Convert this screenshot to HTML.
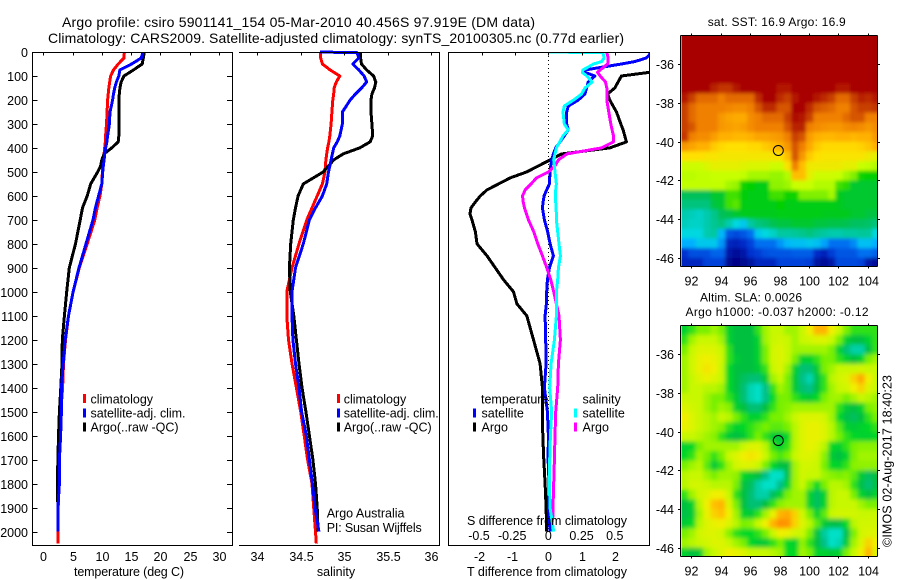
<!DOCTYPE html>
<html lang="en">
<head>
<meta charset="utf-8">
<title>Argo profile csiro 5901141_154</title>
<style>
html,body{margin:0;padding:0;background:#fff;}
svg{display:block;font-family:"Liberation Sans",sans-serif;font-size:12.5px;fill:#000;}
svg text{fill:#000;}
</style>
</head>
<body>
<svg id="chart" xmlns="http://www.w3.org/2000/svg" width="900" height="580" viewBox="0 0 900 580">
  <defs>
    <clipPath id="clip-diff"><rect x="449" y="52" width="200" height="493"/></clipPath>
    <clipPath id="clip-sst"><rect x="681.5" y="36" width="195.5" height="230.5"/></clipPath>
    <clipPath id="clip-sla"><rect x="681.5" y="325.5" width="195.5" height="231"/></clipPath>
    <filter id="soft-sst" x="-5%" y="-5%" width="110%" height="110%"><feGaussianBlur stdDeviation="1.8"/></filter>
    <filter id="soft-sla" x="-5%" y="-5%" width="110%" height="110%"><feGaussianBlur stdDeviation="2.2"/></filter>
  </defs>

  <text x="62" y="27" font-size="14" textLength="473" lengthAdjust="spacing">Argo profile: csiro 5901141_154 05-Mar-2010 40.456S 97.919E (DM data)</text>
  <text x="48" y="43" font-size="14" textLength="576" lengthAdjust="spacing">Climatology: CARS2009. Satellite-adjusted climatology: synTS_20100305.nc (0.77d earlier)</text>

  <g id="panel-temp"></g>
  <g id="panel-sal"></g>
  <g id="panel-diff"></g>
  <g id="map-sst"></g>
  <g id="map-sla"></g>

  <text x="129" y="576" text-anchor="middle" textLength="110" lengthAdjust="spacing">temperature (deg C)</text>
  <text x="336" y="576" text-anchor="middle">salinity</text>
  <text x="547" y="576" text-anchor="middle" textLength="160" lengthAdjust="spacing">T difference from climatology</text>
  <text x="547" y="525" text-anchor="middle" textLength="160" lengthAdjust="spacing">S difference from climatology</text>

  <g>
    <rect x="83" y="394" width="3" height="9" fill="#ff0000"/>
    <text x="90.5" y="403.5">climatology</text>
    <rect x="83" y="408.5" width="3" height="9" fill="#0000ff"/>
    <text x="90.5" y="417.5" textLength="95" lengthAdjust="spacing">satellite-adj. clim.</text>
    <rect x="83" y="422.5" width="3" height="9" fill="#000"/>
    <text x="90.5" y="431.5" textLength="88" lengthAdjust="spacing">Argo(..raw -QC)</text>
  </g>
  <g>
    <rect x="337" y="394" width="3" height="9" fill="#ff0000"/>
    <text x="343.7" y="403.5">climatology</text>
    <rect x="337" y="408.5" width="3" height="9" fill="#0000ff"/>
    <text x="343.7" y="417.5" textLength="95" lengthAdjust="spacing">satellite-adj. clim.</text>
    <rect x="337" y="422.5" width="3" height="9" fill="#000"/>
    <text x="343.7" y="431.5" textLength="88" lengthAdjust="spacing">Argo(..raw -QC)</text>
  </g>
  <g>
    <text x="481" y="403.5">temperature</text>
    <rect x="473" y="408.5" width="3" height="9" fill="#0000ff"/>
    <text x="481.5" y="417.5">satellite</text>
    <rect x="473" y="422.5" width="3" height="9" fill="#000"/>
    <text x="481.5" y="431.5">Argo</text>
    <text x="582.5" y="403.5">salinity</text>
    <rect x="574" y="408.5" width="3" height="9" fill="#00ffff"/>
    <text x="582.5" y="417.5">satellite</text>
    <rect x="574" y="422.5" width="3" height="9" fill="#ff00ff"/>
    <text x="582.5" y="431.5">Argo</text>
  </g>

  <text x="326.7" y="517.5">Argo Australia</text>
  <text x="326.7" y="532" textLength="95" lengthAdjust="spacing">PI: Susan Wijffels</text>

  <text x="776.7" y="26" text-anchor="middle" font-size="12" textLength="138" lengthAdjust="spacing">sat. SST: 16.9 Argo: 16.9</text>
  <text x="751" y="301.5" text-anchor="middle" font-size="12" textLength="102" lengthAdjust="spacing">Altim. SLA: 0.0026</text>
  <text x="777" y="316" text-anchor="middle" font-size="12" textLength="183" lengthAdjust="spacing">Argo h1000: -0.037 h2000: -0.12</text>
  <text transform="translate(891.5,547) rotate(-90)" textLength="172" lengthAdjust="spacing">©IMOS 02-Aug-2017 18:40:23</text>
</svg>

<script>
const profileDepths = [0,3,25,50,75,100,125,150,175,200,250,300,350,375,400,425,450,475,500,550,600,650,700,800,900,1000,1100,1200,1300,1400,1500,1600,1700,1800,1900,2000,2050];
const tempClim = [13.85,13.85,13.8,12.8,12,11.5,11.35,11.2,11.1,11,10.9,10.8,10.65,10.6,10.5,10.4,10.25,10.2,10.1,10,9.7,9.2,8.8,7.5,6.15,5.1,4.3,3.8,3.45,3.3,3,2.85,2.75,2.65,2.55,2.5,2.5];
const tempSat = [17,17,16.75,15.1,13.1,12.9,12.5,12.2,12,11.85,11.4,11.3,11,10.85,10.65,10.5,10.4,10.25,10.15,10,9.45,8.9,8.5,7.3,6.1,5.1,4.3,3.75,3.4,3.1,3.1,2.95,2.75,2.75,2.5,2.5,null];
const tempArgo = [17.25,17.25,17.1,16.9,15.4,13.8,13.3,13.1,13,12.9,12.9,12.9,12.9,12.8,11.7,10.4,10,9.8,9.3,8.1,7.5,6.7,6.3,5.5,4.45,4,3.6,3.25,3.2,3,2.75,2.6,2.5,2.4,2.5,2.5,null];
const salClim = [34.72,34.73,34.73,34.75,34.84,34.95,34.91,34.885,34.88,34.87,34.86,34.85,34.835,34.825,34.81,34.8,34.79,34.785,34.78,34.75,34.69,34.63,34.57,34.48,34.4,34.34,34.34,34.36,34.4,34.45,34.5,34.54,34.58,34.63,34.65,34.67,34.68];
const salSat = [34.72,35.15,35.17,35.1,35.17,35.23,35.26,35.2,35.13,35.07,34.98,34.98,34.95,34.92,34.88,34.865,34.85,34.835,34.82,34.8,34.75,34.67,34.6,34.53,34.44,34.4,34.4,34.41,34.44,34.48,34.51,34.565,34.6,34.635,34.665,34.71,null];
const salArgo = [35.19,35.19,35.19,35.2,35.26,35.34,35.365,35.35,35.32,35.31,35.31,35.32,35.33,35.3,35.18,34.99,34.88,34.82,34.76,34.53,34.47,34.44,34.415,34.385,34.37,34.38,34.42,34.45,34.48,34.515,34.56,34.6,34.64,34.67,34.69,34.7,null];

const diffDepths = [0,3,25,40,50,75,85,100,125,150,175,200,225,250,300,325,350,375,400,425,450,475,500,525,550,575,600,625,650,675,700,750,800,850,900,950,1000,1050,1100,1200,1300,1400,1500,1600,1700,1800,1900,2000];
const dTSat = [3.15,3.1,2.95,2.6,2.2,1.1,1.1,1.4,1.2,1.15,1.1,.9,.6,.55,.55,.6,.48,.35,.22,.15,.1,.07,.05,.04,.03,-.05,-.13,-.16,-.18,-.15,-.12,-.02,.05,.15,.03,-.03,-.05,-.06,-.1,-.08,-.07,-.12,-.03,0,-.01,.02,0,.05];
const dTArgo = [3.4,3.4,3.3,3.8,4.1,3.4,3.03,2.2,2.1,2,1.78,1.85,1.95,2.05,2.18,2.25,2.3,2.35,1.85,.4,.05,-.3,-.65,-1.15,-1.5,-1.85,-2.05,-2.2,-2.33,-2.36,-2.3,-2.2,-2.15,-1.85,-1.6,-1.35,-1.05,-.95,-.65,-.45,-.25,-.18,-.18,-.17,-.14,-.1,-.07,-.05];
const dSSat = [0,.41,.42,.4,.34,.26,.255,.29,.33,.275,.25,.19,.12,.11,.12,.15,.11,.085,.06,.05,.04,.045,.05,.055,.06,.055,.055,.055,.057,.06,.06,.07,.08,.09,.075,.07,.06,.06,.06,.045,.02,.01,.025,.015,.01,.008,.012,.04];
const dSArgo = [.44,.44,.45,.45,.445,.39,.37,.39,.43,.44,.44,.44,.447,.455,.47,.48,.49,.49,.4,.14,.075,.05,0,-.09,-.13,-.175,-.195,-.19,-.18,-.165,-.15,-.11,-.08,-.045,-.012,.018,.04,.06,.08,.09,.075,.07,.055,.05,.045,.04,.035,.03];

const depthTicks = [0,100,200,300,400,500,600,700,800,900,1000,1100,1200,1300,1400,1500,1600,1700,1800,1900,2000];
const tempTicks = [0,5,10,15,20,25,30];
const salTicks = [34,34.5,35,35.5,36];
const dTTicks = [-2,-1,0,1,2];
const dSTicks = [-0.5,-0.25,0,0.25,0.5];
const lonTicks = [92,94,96,98,100,102,104];
const latTicks = [-36,-38,-40,-42,-44,-46];
const argoLon = 97.919;
const argoLat = -40.456;

const gridLon0 = 91.3;
const gridLat0 = -34.5;
const gridStep = 0.5;

const sstGrid = [
[19.2,19.2,19.2,19.2,19.2,19.2,19.2,19.2,19.2,19.2,19.2,19.2,19.2,19.2,19.2,19.2,19.2,19.2,19.2,19.2,19.2,19.2,19.2,19.2,19.2,19.2,19.2],
[19.2,19.2,19.2,19.2,19.2,19.2,19.2,19.2,19.2,19.2,19.2,19.2,19.2,19.2,19.2,19.2,19.2,19.2,19.2,19.2,19.2,19.2,19.2,19.2,19.2,19.2,19.2],
[19.2,19.2,19.2,19.2,19.2,19.2,19.2,19.2,19.2,19.2,19.2,19.2,19.2,19.2,19.2,19.2,19.2,19.2,19.2,19.2,19.2,19.2,19.2,19.2,19.2,19.2,19.2],
[19.2,19.2,19.2,19.2,19.2,19.2,19.2,19.2,19.2,19.2,19.2,19.2,19.2,19.2,19.2,19.2,19.2,19.2,19.2,19.2,19.2,19.2,19.2,19.2,19.2,19.2,19.2],
[19.2,19.2,19.2,19.2,19.2,19.2,19.2,19.2,19.2,19.2,19.2,19.2,19.2,19.2,19.2,19.2,19.2,19.2,19.2,19.2,19.2,19.2,19.2,19.2,19.2,19.2,19.2],
[19.2,19.2,19.2,19.2,18.9,18.7,18.7,19,19.2,19.2,19.2,19.2,19.2,19,19,19.2,19.2,19.2,19.2,19.2,19.2,19,19,19.2,19.2,19.2,19.2],
[19,18.6,18.2,18.2,18.2,18,18.2,18.2,18.2,18.2,18.8,19.2,19.2,18.8,18.6,19,19.2,19.2,19,18.8,18.6,18.2,18.2,18.6,18.9,18.8,19],
[18.6,18.2,18,18,18,18,17.9,17.8,17.8,18,18.4,18.8,18.8,18.4,18.4,19.2,19.2,18.8,18.4,18.3,18.2,18,18,18.4,18.6,18.6,18.7],
[18.6,18.2,18,18,18,17.6,17.4,17.3,17.3,17.8,18,18.2,18.2,18.2,18.6,19.1,19,18.6,18,18,18,18,18.2,18.4,18.4,18,18],
[18.6,18.4,18,18,18,17.6,17.5,17.4,17.5,17.8,18,18,18,18,18.4,18.9,18.9,18,17.8,17.7,17.6,17.6,17.8,17.9,17.8,17.6,17.8],
[18.7,18,17.8,17.8,17.5,17.2,17.2,17.1,17.1,17.2,17.4,17.4,17.5,17.6,18,18.6,18.4,17.5,17.2,17.1,17.1,17.2,17.2,17.1,17.2,17.2,17.6],
[17.6,17.4,17.2,17.2,16.8,16.6,16.5,16.5,16.5,16.6,16.6,16.8,17,17.2,17.6,18.4,18,17.3,16.8,16.6,16.6,16.6,16.6,16.6,16.7,16.9,17.2],
[16.5,16.5,16.5,16.4,16.4,16.3,16.3,16.3,16.3,16.3,16.3,16.3,16.4,16.5,17,18.4,17.6,16.8,16.5,16.4,16.4,16.4,16.4,16.4,16.4,16.2,16],
[15.6,15.6,15.6,15.8,16,16,16,16,15.9,15.8,15.8,15.8,15.6,15.6,16.4,18,17,16.2,16.2,16.2,16.2,16.2,16,16,15.5,15.4,15.2],
[15.3,15.3,15.4,15.4,15.5,15.5,15.5,15.5,15.4,15,15,15,14.8,14.8,15.2,17,17,16,15.6,15.6,15.6,15.5,15,14.5,13.6,13.5,13.5],
[15.4,15.4,15.4,15.4,15.4,15.4,15,14.8,13.6,13.5,13.3,13.3,14.7,14.7,14.9,15.5,15.6,15.5,15.2,15.2,15.2,14,13.8,13,13,13,13],
[12.5,12.5,12.5,12.5,13,13,14,14,13.4,13.3,13.3,13.3,14,14,13.6,13.6,14.5,14.5,14.5,14.5,15,13.2,13,13,13,13,13],
[12,12,12,12,12.8,13,14,14.2,13.3,13.3,13.3,13.3,13.3,13.5,13.3,13.3,13.3,13.3,13.3,13.3,13.3,13.2,13,13,13,13,13],
[11.4,11.3,11.2,11.4,11.8,12.5,12.7,13,13.2,13.2,13.2,13.2,13.2,13.3,13.3,13.3,13.3,13.3,13.3,13.2,13.2,13.2,13.2,13,13,12.8,12.8],
[11.3,11.2,11.2,11.4,11.7,12,11.4,11,10.8,11.5,12,12.2,12.6,12.8,12.8,13,13,13,12.8,12.8,12.7,12.7,12.6,12.4,12.4,12.3,12],
[11,11,11,11.4,11.5,10.6,9.6,9.4,9.6,10,10.8,11,11.2,11.5,11.5,11.6,11.8,12,11.7,11.5,11.4,11.4,11.5,11.5,11.6,11.6,11],
[10.5,10.5,10.8,10.8,10.8,10.3,8.8,8.7,8.9,9.3,10,10,10,10.3,10.6,10.7,10.7,10.8,10.7,10.4,10,10,10,10.2,10.7,10.7,10.5],
[9,9.5,9.5,9.5,9.8,9.8,8.5,8.3,8.5,9,9.2,9.5,9.6,9.6,9.6,9.7,9.7,9.7,8.9,8.7,9.2,9.6,9.6,9.6,10,10,9.8],
[8.8,8.8,8.8,9.3,9.3,9.3,8.2,8.1,8.2,8.4,8.8,8.8,8.8,9.3,9.3,9.3,9.3,9.2,8.4,8.3,8.5,9.4,9.4,9.4,9.3,8.5,8.3]
];

const slaGrid = [
[-1,-0.5,0,0,0.5,0,-1,-1.5,-1.5,-1.5,-0.5,0.5,1,1,0.5,0.5,1,2,3,3,2,1,0,-0.5,-0.5,-0.5,-0.5],
[-0.5,0.5,1,1,1,0.5,-1,-1.5,-1.5,-1.5,-1,0.5,1,1.2,1,0.5,1,1.2,1.5,1.5,1,0,-1,-1.5,-1.5,-1,-0.5],
[0,1,1.5,1.5,1.5,1,-0.5,-1.5,-1.5,-1.5,-1,0,1.2,1.5,1,0.5,0.5,0.5,0.5,0.5,0,-1,-2,-2.5,-2.5,-1.5,-0.5],
[0.5,1.2,1.8,2,1.8,1.2,-0.5,-1.2,-1.5,-1.5,-1,0,1.2,1.5,1,0,-1,-1,-0.5,0,0,-0.5,-1,-1.5,-1,0,0.5],
[0.5,1.2,1.8,2.2,2,1,-0.8,-1.5,-1.5,-1.5,-1.2,-0.5,1,1.5,0.5,-1,-2,-2,-1.2,0,0.5,1,1,1,1.2,1,1],
[0.5,1,1.5,1.8,1.5,1,-0.8,-1.5,-1.8,-2,-2,-1.2,0.5,1,0,-1.2,-2.2,-2.6,-1.6,-0.5,0.8,1.2,1.5,2.5,3.2,2,1],
[0.5,1,1,0.8,0.8,0.5,-0.8,-1.5,-2,-2.6,-3,-2.2,-0.5,0.5,0,-1.2,-2,-2.2,-1.5,-0.5,0.5,1,1.2,2,2.5,1.5,1],
[1,1,1,0.5,0,0,-0.5,-1.2,-2,-2.6,-3,-2.2,-0.8,0,0,-0.5,-1,-1.2,-0.8,0,0.5,0.5,0,0.5,1,0.8,0.5],
[1.5,1.2,1,0.5,0,0.5,0.2,-1,-1.5,-2,-2,-1.5,-0.5,0,0.2,0.5,0.5,0.5,0.5,0.5,0.5,-0.5,-1.2,-1.5,-1,0,0.3],
[2,1.5,1,0.8,0.5,1,0.8,0,-0.5,-1,-1,-0.5,0,0,0.5,1,1.5,1.5,1.5,1.2,0.5,-0.8,-1.6,-1.8,-1.5,-0.5,0],
[1.8,1.5,1,0.8,0.5,0.2,-0.5,-1,-0.8,-0.5,-0.2,0,-0.2,-0.2,0,0.8,1.5,1.8,1.8,1.5,0.8,-0.2,-1,-1.2,-1,-0.8,-0.5],
[1,1,0.8,0.5,0.2,-0.5,-1.2,-1.5,-1.2,-0.5,0,-0.5,-1.2,-1.4,-0.8,0.8,1.5,1.8,1.8,1.5,0.8,0,-0.5,-0.8,-1,-1,-0.8],
[-1,-0.8,0,0.5,0.5,0.5,0.5,0.5,1,1.5,1.5,0.8,-0.5,-1,-0.5,0.8,1.5,1.8,1.5,0.8,-0.8,-1,-0.5,0,0.2,0.2,0.2],
[-0.8,-0.5,0.5,0,-0.5,0,1,1.5,2,2.2,2,1,0,-0.3,0,1,1.5,1.5,1.2,0.2,-1.2,-1.5,-1,0,0.5,0.5,0.5],
[0,0.5,0.8,-0.2,-1.2,-0.5,0.5,1.2,1.5,1.5,1,0,-0.8,-1.5,-1.5,0.5,1.2,1.2,1,0,-0.8,-1,-0.5,0.2,0.3,0.3,0.3],
[0.8,1,1,0.5,0,0.5,0.5,0.3,-0.8,-1.2,-1.5,-2.2,-2.8,-2.8,-1.6,0.5,1.2,1,1,0.5,0.2,0,0.2,-0.2,-1.2,-1.8,-1.5],
[0.8,1.2,1.2,1,0.8,0.8,0.8,0,-1.4,-1.8,-2.5,-2.8,-2.9,-2.2,-1,0.5,1,0,-0.8,0,0.8,0.8,0.5,-0.5,-1.6,-2,-1.6],
[-0.5,0.5,1.2,1.5,2,2,1,-0.5,-1.5,-2,-2.5,-2.5,-1.8,-1,0,0.5,0.5,-1,-1.8,-1,0.8,1,1,0,-1,-1.5,-1],
[-1.5,-1,0.8,2,2.8,3,1.5,0,-1.5,-2,-2,-1.5,-0.5,0.2,0.5,0.5,0.5,-1,-1.8,-1,0.8,1,1,1,0.5,0,0],
[-1.6,-1.2,0.5,1.8,2.5,2.8,2,0.5,-1,-1.2,-0.5,0.5,1.8,3,3.2,2.5,1.2,0,-1,-0.2,1,1.2,1.2,1.2,1,1,1],
[-1.2,-0.8,0.8,1.5,1.8,2,1.5,0.8,0,0.2,1,2,3,3.8,3.5,2.5,1.5,0.8,-0.2,-1.2,-1.6,-1.6,-0.8,0.8,1.2,1.2,1.2],
[0,0.5,1.2,1.5,1.5,1.2,0.2,-0.5,-0.8,-0.8,-0.5,0,1,2,1.8,1.2,1,0,-1.4,-2.4,-3.2,-3,-1.6,0,1.2,1.5,1.5],
[0.5,0.8,1,1.2,1.5,1.5,1,0.5,0,-0.8,-1.2,-1.2,-0.5,0,-0.8,-1,0.3,-0.5,-1.5,-2.2,-3,-2.6,-1.2,0.5,1.5,2.5,2],
[-1,-1.5,-1.2,0.5,1,1.5,2,1.8,1.5,1,1,1,0.8,0.5,-0.8,-0.8,0.5,0,-1,-1,-1.2,-1,0,1,2,3,1.5]
];

const SVGNS = 'http://www.w3.org/2000/svg';

function make(parent, tag, attrs, name, text) {
  const el = document.createElementNS(SVGNS, tag);
  for (const k in attrs) el.setAttribute(k, attrs[k]);
  
  
  if (text !== undefined) el.textContent = text;
  parent.appendChild(el);
  return el;
}

const yDepth = d => 52 + d * 0.2398;
const xTemp = v => 43.3 + v * 5.85;
const xSal = v => 257.3 + (v - 34) * 86.8;
const xDT = v => 548.4 + v * 33.2;
const xDS = v => 548.4 + v * 132.8;

function drawLine(parent, depths, values, xFn, colour, name) {
  const pts = [];
  values.forEach((v, i) => {
    if (v !== null) pts.push(xFn(v).toFixed(1) + ',' + yDepth(depths[i]).toFixed(1));
  });
  return make(parent, 'polyline', {
    points: pts.join(' '),
    fill: 'none',
    stroke: colour,
    'stroke-width': 3,
    'stroke-linejoin': 'round',
    'shape-rendering': 'crispEdges'
  }, name);
}

function drawSeg(parent, x1, y1, x2, y2, name) {
  return make(parent, 'line', {
    x1: x1, y1: y1, x2: x2, y2: y2,
    stroke: '#000',
    'stroke-width': 1,
    'shape-rendering': 'crispEdges'
  }, name);
}

/* temperature panel */
const gT = document.getElementById('panel-temp');
drawLine(gT, profileDepths, tempClim, xTemp, '#ff0000', 'temperature-climatology-line');
drawLine(gT, profileDepths, tempArgo, xTemp, '#000000', 'temperature-argo-line');
drawLine(gT, profileDepths, tempSat, xTemp, '#0000ff', 'temperature-satellite-line');
drawSeg(gT, 32.5, 52.5, 232.5, 52.5, 'temperature-top-axis');
drawSeg(gT, 32.5, 545.5, 232.5, 545.5, 'temperature-bottom-axis');
drawSeg(gT, 32.5, 52, 32.5, 546, 'temperature-depth-axis');
drawSeg(gT, 232.5, 52, 232.5, 546, 'temperature-right-axis');
depthTicks.forEach(d => {
  const y = Math.round(yDepth(d)) + 0.5;
  drawSeg(gT, 32.5, y, 37.5, y, 'depth-tick-left');
  drawSeg(gT, 227, y, 232.5, y, 'depth-tick-right');
  make(gT, 'text', {x: 28, y: y + 4.5, 'text-anchor': 'end'}, 'depth-tick-label', String(d));
});
tempTicks.forEach(v => {
  const x = Math.round(xTemp(v)) + 0.5;
  drawSeg(gT, x, 52, x, 55.5, 'temperature-tick');
  make(gT, 'text', {x: x, y: 561, 'text-anchor': 'middle'}, 'temperature-tick-label', String(v));
});

/* salinity panel */
const gS = document.getElementById('panel-sal');
drawLine(gS, profileDepths, salClim, xSal, '#ff0000', 'salinity-climatology-line');
drawLine(gS, profileDepths, salArgo, xSal, '#000000', 'salinity-argo-line');
drawLine(gS, profileDepths, salSat, xSal, '#0000ff', 'salinity-satellite-line');
drawSeg(gS, 239, 52.5, 439.5, 52.5, 'salinity-top-axis');
drawSeg(gS, 239, 545.5, 439.5, 545.5, 'salinity-bottom-axis');
drawSeg(gS, 439.5, 52, 439.5, 546, 'salinity-right-axis');
salTicks.forEach(v => {
  const x = Math.round(xSal(v)) + 0.5;
  drawSeg(gS, x, 52, x, 55.5, 'salinity-tick');
  make(gS, 'text', {x: x, y: 561, 'text-anchor': 'middle'}, 'salinity-tick-label', String(v));
});

/* difference panel */
const gD = document.getElementById('panel-diff');
const diffClip = make(gD, 'g', {'clip-path': 'url(#clip-diff)'}, 'difference-plot-area');
make(diffClip, 'line', {
  x1: xDT(0), y1: 52, x2: xDT(0), y2: yDepth(2000),
  stroke: '#000',
  'stroke-width': 1,
  'stroke-dasharray': '1 3',
  'shape-rendering': 'crispEdges'
}, 'zero-difference-line');
drawLine(diffClip, diffDepths, dTArgo, xDT, '#000000', 't-difference-argo-line');
drawLine(diffClip, diffDepths, dTSat, xDT, '#0000ff', 't-difference-satellite-line');
drawLine(diffClip, diffDepths, dSArgo, xDS, '#ff00ff', 's-difference-argo-line');
drawLine(diffClip, diffDepths, dSSat, xDS, '#00ffff', 's-difference-satellite-line');
drawSeg(gD, 448.5, 52.5, 649.5, 52.5, 'difference-top-axis');
drawSeg(gD, 448.5, 545.5, 649.5, 545.5, 'difference-bottom-axis');
drawSeg(gD, 448.5, 52, 448.5, 546, 'difference-left-axis');
drawSeg(gD, 649.5, 52, 649.5, 546, 'difference-right-axis');
dTTicks.forEach(v => {
  const x = Math.round(xDT(v)) + 0.5;
  drawSeg(gD, x, 52, x, 55.5, 't-difference-tick');
  make(gD, 'text', {x: x - (v < 0 ? 3 : 0), y: 561, 'text-anchor': 'middle'}, 't-difference-tick-label', String(v));
});
dSTicks.forEach(v => {
  const x = xDS(v) - (v < 0 ? 3 : 0);
  make(gD, 'text', {x: x, y: 540, 'text-anchor': 'middle'}, 's-difference-tick-label', String(v));
});

/* maps */
const sstStops = [
  [8, 0, 0, 127], [9, 0, 48, 208], [10, 0, 112, 240], [10.5, 0, 176, 255],
  [11, 0, 216, 224], [11.5, 0, 200, 160], [12.5, 0, 192, 90], [13.5, 0, 208, 0],
  [14.5, 128, 240, 0], [15.5, 200, 255, 0], [16.5, 255, 224, 0], [17.2, 255, 176, 0],
  [18, 240, 128, 0], [18.6, 200, 64, 0], [19.2, 168, 0, 0]
];
const slaStops = [
  [-2.8, 0, 224, 200], [-2.2, 0, 192, 136], [-1.5, 0, 192, 64], [-0.8, 0, 216, 40],
  [0, 120, 240, 0], [1, 200, 248, 0], [2, 240, 240, 0], [2.8, 255, 192, 0], [3.6, 255, 144, 0]
];

function colour(stops, v) {
  if (v <= stops[0][0]) return 'rgb(' + stops[0].slice(1).join(',') + ')';
  for (let i = 1; i < stops.length; i++) {
    if (v <= stops[i][0]) {
      const a = stops[i - 1], b = stops[i];
      const f = (v - a[0]) / (b[0] - a[0]);
      return 'rgb(' + [1, 2, 3].map(k => Math.round(a[k] + (b[k] - a[k]) * f)).join(',') + ')';
    }
  }
  return 'rgb(' + stops[stops.length - 1].slice(1).join(',') + ')';
}

function drawMap(groupId, grid, stops, frame, clipId, filterId, prefix) {
  const g = document.getElementById(groupId);
  const xLon = lon => 691.3 + (lon - 92) * 14.7;
  const yLat = lat => frame.y36 + (-36 - lat) * 19.35;
  const clip = make(g, 'g', {'clip-path': 'url(#' + clipId + ')'}, prefix + '-image');
  const crisp = make(clip, 'g', {'shape-rendering': 'crispEdges'}, prefix + '-cells');
  grid.forEach((row, r) => {
    row.forEach((v, c) => {
      const lon = gridLon0 + c * gridStep;
      const lat = gridLat0 - r * gridStep;
      make(crisp, 'rect', {
        x: xLon(lon).toFixed(2),
        y: yLat(lat).toFixed(2),
        width: (gridStep * 14.7 + 0.4).toFixed(2),
        height: (gridStep * 19.35 + 0.4).toFixed(2),
        fill: colour(stops, v)
      }, prefix + '-cell');
    });
  });
  const soft = crisp.cloneNode(true);
  soft.setAttribute('filter', 'url(#' + filterId + ')');
  
  soft.removeAttribute('shape-rendering');
  clip.appendChild(soft);

  drawSeg(g, 680.5, frame.top, 877.5, frame.top, prefix + '-top-axis');
  drawSeg(g, 680.5, frame.bottom, 877.5, frame.bottom, prefix + '-bottom-axis');
  drawSeg(g, 680.5, frame.top, 680.5, frame.bottom, prefix + '-left-axis');
  drawSeg(g, 877.5, frame.top, 877.5, frame.bottom, prefix + '-right-axis');
  lonTicks.forEach(lon => {
    const x = Math.round(xLon(lon)) + 0.5;
    drawSeg(g, x, frame.top - 2, x, frame.top, prefix + '-longitude-tick');
    drawSeg(g, x, frame.bottom, x, frame.bottom + 2, prefix + '-longitude-tick');
    make(g, 'text', {x: x, y: frame.bottom + 19, 'text-anchor': 'middle'}, prefix + '-longitude-label', String(lon));
  });
  latTicks.forEach(lat => {
    const y = Math.round(yLat(lat)) + 0.5;
    drawSeg(g, 678, y, 680.5, y, prefix + '-latitude-tick');
    drawSeg(g, 877.5, y, 880, y, prefix + '-latitude-tick');
    make(g, 'text', {x: 674, y: y + 4.5, 'text-anchor': 'end'}, prefix + '-latitude-label', String(lat));
  });
  make(g, 'circle', {
    cx: xLon(argoLon).toFixed(1),
    cy: yLat(argoLat).toFixed(1),
    r: 5,
    fill: 'none',
    stroke: '#000',
    'stroke-width': 1
  }, prefix + '-argo-position');
}

drawMap('map-sst', sstGrid, sstStops, {top: 35.5, bottom: 266.5, y36: 64.3}, 'clip-sst', 'soft-sst', 'sst-map');
drawMap('map-sla', slaGrid, slaStops, {top: 325.5, bottom: 556.5, y36: 354.3}, 'clip-sla', 'soft-sla', 'sla-map');
</script>
</body>
</html>
